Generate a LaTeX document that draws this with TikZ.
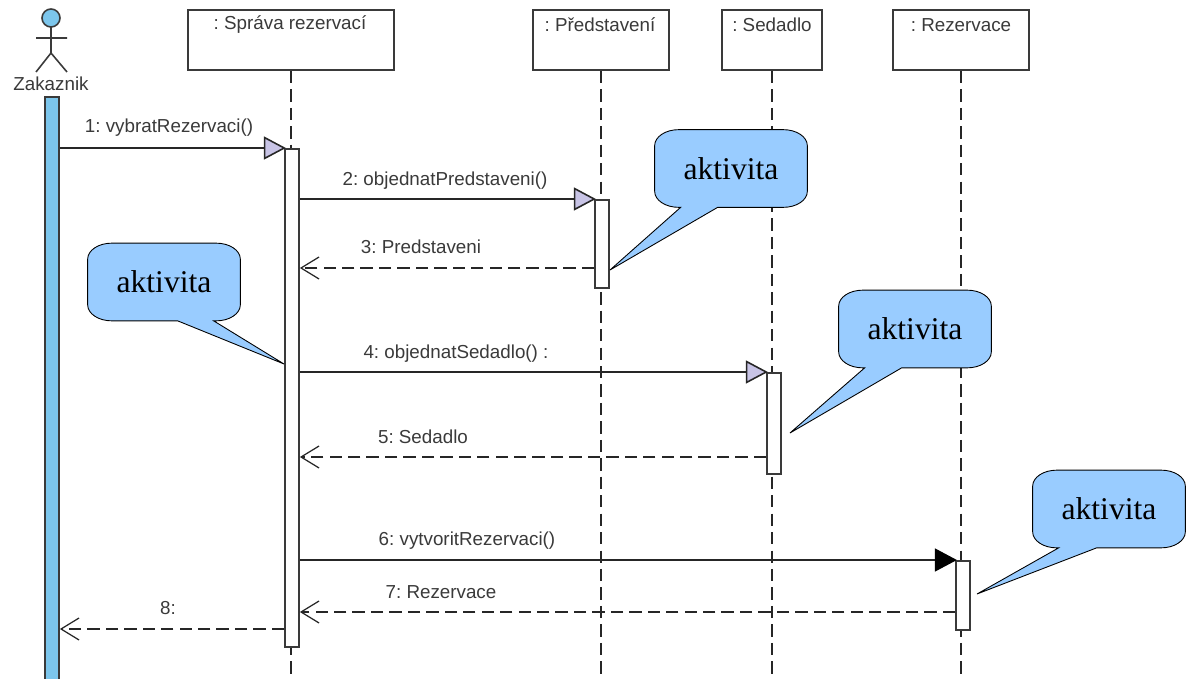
\documentclass[tikz,border=0pt]{standalone}
\usepackage{fontspec}
\setmainfont{Liberation Sans}
\newfontfamily\serifcall{Liberation Serif}
\usetikzlibrary{arrows.meta, positioning, calc}
\definecolor{barblue}{HTML}{7CC6EC}
\definecolor{callblue}{HTML}{99CCFF}
\definecolor{tiplav}{HTML}{C8C4E6}
\definecolor{inkgrey}{HTML}{3A3A3A}
\tikzset{
  objbox/.style={draw=inkgrey, fill=white, line width=1pt, minimum height=1.2cm, inner sep=0pt},
  objtext/.style={text=inkgrey, font=\frenchspacing\fontsize{10.7}{12}\selectfont, inner sep=0pt},
  lifeline/.style={draw=black!85, line width=0.9pt, dash pattern=on 7pt off 3.5pt},
  actbox/.style={draw=inkgrey, fill=white, line width=1pt, minimum width=0.28cm, inner sep=0pt},
  callmsg/.style={draw=black!85, line width=0.9pt, shorten >=-1pt, -{Triangle[length=0.44cm,width=0.46cm,fill=tiplav,line width=0.9pt]}},
  syncmsg/.style={draw=black!85, line width=0.9pt, shorten >=-1pt, -{Triangle[length=0.44cm,width=0.46cm,black]}},
  retmsg/.style={draw=black!85, line width=0.9pt, dash pattern=on 7pt off 3.5pt, -{Straight Barb[length=0.36cm,width=0.44cm,line width=0.7pt]}},
  msgtext/.style={text=inkgrey, font=\frenchspacing\fontsize{10.7}{12}\selectfont, inner sep=0pt},
  bubble/.style={minimum width=3.04cm, minimum height=1.54cm, inner sep=0pt},
  bubbletext/.style={font=\serifcall\fontsize{18}{20}\selectfont, inner sep=0pt},
  bubbleline/.style={draw=black, fill=callblue, line width=0.5pt},
}
% callout: name, centre, the tail's two feet measured from the south west corner, tip
\newcommand{\callbubble}[5]{
    \node[bubble] (#1) at #2 {};
    \draw[bubbleline] ($(#1.north west)+(24,0)$) -- ($(#1.north east)+(-24,0)$)
        arc[start angle=90,end angle=0,x radius=0.48cm,y radius=0.32cm]
        -- ($(#1.south east)+(0,-16)$)
        arc[start angle=0,end angle=-90,x radius=0.48cm,y radius=0.32cm]
        -- ($(#1.south west)+(#4,0)$) -- (#5) -- ($(#1.south west)+(#3,0)$)
        -- ($(#1.south west)+(24,0)$)
        arc[start angle=-90,end angle=-180,x radius=0.48cm,y radius=0.32cm]
        -- ($(#1.north west)+(0,16)$)
        arc[start angle=180,end angle=90,x radius=0.48cm,y radius=0.32cm]
        -- cycle;
    \node[bubbletext] (#1Text) at (#1) {aktivita};
}
\begin{document}
\begin{tikzpicture}[x=0.02cm,y=-0.02cm]
\useasboundingbox (0,0) rectangle (1188,679);
\fill[white] (0,0) rectangle (1188,679);
% Actor
\draw[fill=barblue,draw=inkgrey,line width=0.9pt] (51,18) circle (9);
\draw[draw=inkgrey,line width=0.9pt] (51,27) -- (51,53) (36,38) -- (67,38) (36,72) -- (51,53) -- (67,72);
\node[objtext] (zakaznik) at (51,84) {Zakaznik};
\node[draw=inkgrey,fill=barblue,line width=1pt,minimum width=0.28cm,minimum height=11.7cm,inner sep=0pt,anchor=north] (zakaznikBar) at (52,96) {};
% Object boxes
\node[objbox,minimum width=4.12cm] (sprava) at (291,40) {};
\node[objbox,minimum width=2.72cm] (predstaveni) at (601,40) {};
\node[objbox,minimum width=2.0cm] (sedadlo) at (772,40) {};
\node[objbox,minimum width=2.72cm] (rezervace) at (961,40) {};
\node[objtext] (spravaName) at (290,25) {: Správa rezervací};
\node[objtext] (predstaveniName) at (600,25) {: Představení};
\node[objtext] (sedadloName) at (772,25) {: Sedadlo};
\node[objtext] (rezervaceName) at (961,25) {: Rezervace};
% Lifelines
\foreach \obj in {sprava,predstaveni,sedadlo,rezervace} {
    \coordinate (\obj End) at (\obj.south |- 0,679);
    \draw[lifeline] (\obj.south) -- (\obj End);
}
% Activations
\node[actbox,minimum height=9.96cm,anchor=north] (spravaAct) at (292,148) {};
\node[actbox,minimum height=1.76cm,anchor=north] (predstaveniAct) at (602,199) {};
\node[actbox,minimum height=2.02cm,anchor=north] (sedadloAct) at (774,372) {};
\node[actbox,minimum height=1.38cm,anchor=north] (rezervaceAct) at (963,560) {};
% Messages
\draw[callmsg] (zakaznikBar.east |- 0,148) -- (spravaAct.north west);
\draw[callmsg] (spravaAct.east |- 0,199) -- (predstaveniAct.north west);
\draw[retmsg] (predstaveniAct.west |- 0,268) -- (spravaAct.east |- 0,268);
\draw[callmsg] (spravaAct.east |- 0,372) -- (sedadloAct.north west);
\draw[retmsg] (sedadloAct.west |- 0,457) -- (spravaAct.east |- 0,457);
\draw[syncmsg] (spravaAct.east |- 0,560) -- (rezervaceAct.north west);
\draw[retmsg] (rezervaceAct.west |- 0,612) -- (spravaAct.east |- 0,612);
\draw[retmsg] (spravaAct.west |- 0,629) -- (zakaznikBar.east |- 0,629);
\node[msgtext] (msgA) at (169,128) {1: vybratRezervaci()};
\node[msgtext] (msgB) at (445,181) {2: objednatPredstaveni()};
\node[msgtext] (msgC) at (421,247) {3: Predstaveni};
\node[msgtext] (msgD) at (456,354) {4: objednatSedadlo() :};
\node[msgtext] (msgE) at (423,437) {5: Sedadlo};
\node[msgtext] (msgF) at (467,541) {6: vytvoritRezervaci()};
\node[msgtext] (msgG) at (441,592) {7: Rezervace};
\node[msgtext] (msgH) at (168,608) {8:};
% Callouts
\coordinate (tipA) at (610,270);
\coordinate (tipB) at (284,364);
\coordinate (tipC) at (790,433);
\coordinate (tipD) at (977,594);
\callbubble{bubbleA}{(731,168.5)}{26}{63}{tipA}
\callbubble{bubbleB}{(164,282)}{90}{126}{tipB}
\callbubble{bubbleC}{(915,329)}{26}{63}{tipC}
\callbubble{bubbleD}{(1109,509)}{26}{64}{tipD}
\end{tikzpicture}
\end{document}
